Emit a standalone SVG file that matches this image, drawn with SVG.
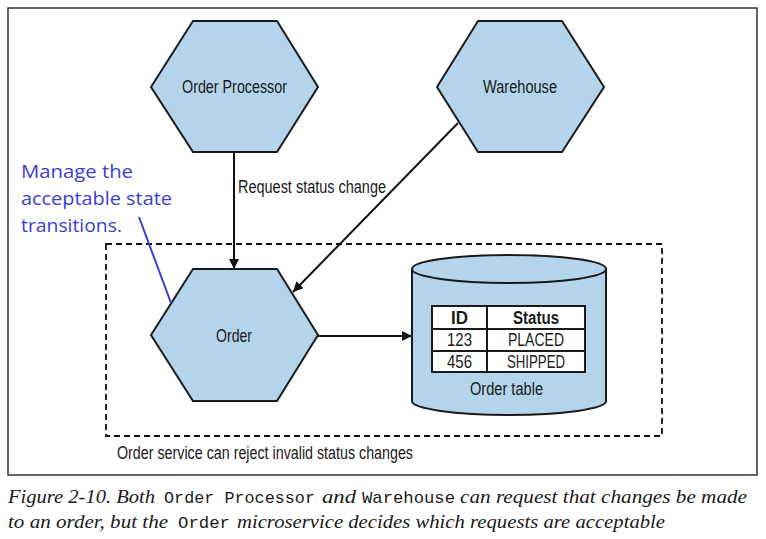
<svg xmlns="http://www.w3.org/2000/svg" width="766" height="539" viewBox="0 0 766 539">
<defs>
<marker id="ah" viewBox="0 0 10 10" refX="10" refY="5" markerWidth="10" markerHeight="10" markerUnits="userSpaceOnUse" orient="auto">
<path d="M0,0 L10,5 L0,10 z" fill="#111"/>
</marker>
<style>
.hex{fill:#b3d4ea;stroke:#1a1a1a;stroke-width:2;stroke-linejoin:miter}
.lbl{font-family:"Liberation Sans",Arial,sans-serif;font-size:17.5px;fill:#1a1a1a}
.cell{font-family:"Liberation Sans",Arial,sans-serif;font-size:17.5px;fill:#1a1a1a;text-anchor:middle}
.bold{font-weight:bold}
.conn{stroke:#111;stroke-width:2;fill:none}
.note{font-family:"Open Sans","Liberation Sans",sans-serif;font-size:19px;fill:#3d3dce}
.cap{font-family:"Liberation Serif","Times New Roman",serif;font-style:italic;font-size:19px;fill:#1a1a1a}
.mono{font-family:"Liberation Mono","Courier New",monospace;font-size:17px;fill:#1a1a1a}
</style>
</defs>
<rect width="766" height="539" fill="#fff"/>
<rect x="8" y="8" width="749" height="467" fill="none" stroke="#333" stroke-width="1.5"/>

<g id="service-boundary">
<rect x="106" y="244" width="556" height="192" fill="none" stroke="#111" stroke-width="1.8" stroke-dasharray="6,4"/>
<text class="lbl" x="117" y="459" textLength="296" lengthAdjust="spacingAndGlyphs">Order service can reject invalid status changes</text>
</g>

<g id="connectors">
<line class="conn" x1="234" y1="152" x2="234" y2="269" marker-end="url(#ah)"/>
<line class="conn" x1="458" y1="123" x2="293" y2="292" marker-end="url(#ah)"/>
<line class="conn" x1="318" y1="336" x2="412" y2="336" marker-end="url(#ah)"/>
<text class="lbl" x="238" y="193" textLength="148" lengthAdjust="spacingAndGlyphs">Request status change</text>
</g>

<g id="order-processor">
<polygon class="hex" points="151,87 193,21 277,21 318,87 277,152 193,152"/>
<text class="lbl" x="182" y="93" textLength="105" lengthAdjust="spacingAndGlyphs">Order Processor</text>
</g>

<g id="warehouse">
<polygon class="hex" points="437,87 478,21 562,21 604,87 562,152 478,152"/>
<text class="lbl" x="483" y="93" textLength="74" lengthAdjust="spacingAndGlyphs">Warehouse</text>
</g>

<g id="order">
<polygon class="hex" points="151,335 193,269 277,269 318,335 277,401 193,401"/>
<text class="lbl" x="216" y="342" textLength="36" lengthAdjust="spacingAndGlyphs">Order</text>
</g>

<g id="order-table">
<path d="M412,269 L412,401 A97,14 0 0 0 606,401 L606,269" fill="#b3d4ea" stroke="#1a1a1a" stroke-width="2"/>
<ellipse cx="509" cy="269" rx="97" ry="14" fill="#b3d4ea" stroke="#1a1a1a" stroke-width="2"/>
<rect x="432" y="306" width="153" height="66" fill="#fff" stroke="#1a1a1a" stroke-width="2"/>
<line x1="432" y1="329" x2="585" y2="329" stroke="#1a1a1a" stroke-width="2"/>
<line x1="432" y1="351" x2="585" y2="351" stroke="#1a1a1a" stroke-width="2"/>
<line x1="487" y1="306" x2="487" y2="372" stroke="#1a1a1a" stroke-width="2"/>
<text class="cell bold" x="459.5" y="324" textLength="17" lengthAdjust="spacingAndGlyphs">ID</text>
<text class="cell bold" x="536" y="324" textLength="46" lengthAdjust="spacingAndGlyphs">Status</text>
<text class="cell" x="459.5" y="346" textLength="25" lengthAdjust="spacingAndGlyphs">123</text>
<text class="cell" x="536" y="346" textLength="56" lengthAdjust="spacingAndGlyphs">PLACED</text>
<text class="cell" x="459.5" y="368" textLength="25" lengthAdjust="spacingAndGlyphs">456</text>
<text class="cell" x="536" y="368" textLength="58" lengthAdjust="spacingAndGlyphs">SHIPPED</text>
<text class="lbl" x="470" y="395" textLength="73" lengthAdjust="spacingAndGlyphs">Order table</text>
</g>

<g id="annotation">
<text class="note" x="21" y="178" textLength="112" lengthAdjust="spacingAndGlyphs">Manage the</text>
<text class="note" x="21" y="205" textLength="151" lengthAdjust="spacingAndGlyphs">acceptable state</text>
<text class="note" x="21" y="232" textLength="101" lengthAdjust="spacingAndGlyphs">transitions.</text>
<line x1="139" y1="217" x2="171" y2="303" stroke="#3d3dce" stroke-width="2"/>
</g>

<g id="caption">
<text class="cap" x="8" y="503" textLength="147" lengthAdjust="spacingAndGlyphs">Figure 2-10. Both</text>
<text class="mono" x="164" y="503" textLength="151" lengthAdjust="spacingAndGlyphs">Order Processor</text>
<text class="cap" x="322" y="503" textLength="34" lengthAdjust="spacingAndGlyphs">and</text>
<text class="mono" x="362" y="503" textLength="93" lengthAdjust="spacingAndGlyphs">Warehouse</text>
<text class="cap" x="460" y="503" textLength="287" lengthAdjust="spacingAndGlyphs">can request that changes be made</text>
<text class="cap" x="8" y="528" textLength="160" lengthAdjust="spacingAndGlyphs">to an order, but the</text>
<text class="mono" x="178" y="528" textLength="52" lengthAdjust="spacingAndGlyphs">Order</text>
<text class="cap" x="237" y="528" textLength="428" lengthAdjust="spacingAndGlyphs">microservice decides which requests are acceptable</text>
</g>
</svg>
